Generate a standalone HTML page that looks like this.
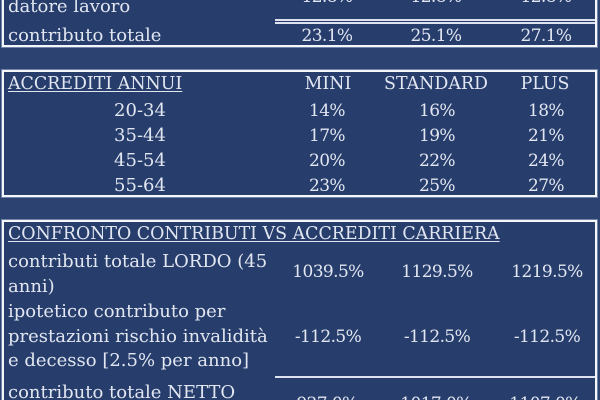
<!DOCTYPE html>
<html>
<head>
<meta charset="utf-8">
<style>
  html { margin:0; padding:0; width:600px; height:400px; overflow:hidden; background:#2c4372; }
  body {
    margin:0; padding:0;
    width:600px; height:400px; overflow:hidden; position:relative;
    background:#2c4372;
    font-family:"DejaVu Serif","Liberation Serif",serif;
    color:#e2e6f0;
  }
  .box {
    position:absolute; left:2px; width:595px; box-sizing:border-box;
    border:2px solid #f4f6fa; background:#273e6d;
    box-shadow:0 0 0 1px rgba(170,185,215,0.55);
  }
  .t { position:absolute; font-size:18px; line-height:18px; white-space:nowrap; }
  .c { width:140px; text-align:center; }
  .n { font-size:17px; letter-spacing:-0.6px; }
  .h { font-size:17.4px; }
  .u { text-decoration:underline; text-decoration-thickness:1px; text-underline-offset:2px; }
  .line { position:absolute; background:#dde2ee; }
</style>
</head>
<body>
  <!-- Box 1 -->
  <div class="box" style="top:-60px;height:107px;"></div>
  <div class="t n c" style="left:257px;top:-12px;">12.8%</div>
  <div class="t n c" style="left:366px;top:-12px;">12.8%</div>
  <div class="t n c" style="left:476px;top:-12px;">12.8%</div>
  <div class="t" style="left:8px;top:-2px;">datore lavoro</div>
  <div class="line" style="left:275px;width:320px;top:19px;height:2px;"></div>
  <div class="line" style="left:275px;width:320px;top:22px;height:2px;"></div>
  <div class="t" style="left:8px;top:26.5px;">contributo totale</div>
  <div class="t n c" style="left:257px;top:26.5px;">23.1%</div>
  <div class="t n c" style="left:366px;top:26.5px;">25.1%</div>
  <div class="t n c" style="left:476px;top:26.5px;">27.1%</div>

  <!-- Box 2 -->
  <div class="box" style="top:70px;height:127px;"></div>
  <div class="t h u" style="left:8px;top:75px;">ACCREDITI ANNUI</div>
  <div class="t h c" style="left:258px;top:75px;">MINI</div>
  <div class="t h c" style="left:366px;top:75px;">STANDARD</div>
  <div class="t h c" style="left:475px;top:75px;">PLUS</div>

  <div class="t c" style="left:70px;top:101.5px;">20-34</div>
  <div class="t n c" style="left:257px;top:101.5px;">14%</div>
  <div class="t n c" style="left:367px;top:101.5px;">16%</div>
  <div class="t n c" style="left:476px;top:101.5px;">18%</div>

  <div class="t c" style="left:70px;top:126.5px;">35-44</div>
  <div class="t n c" style="left:257px;top:126.5px;">17%</div>
  <div class="t n c" style="left:367px;top:126.5px;">19%</div>
  <div class="t n c" style="left:476px;top:126.5px;">21%</div>

  <div class="t c" style="left:70px;top:151.5px;">45-54</div>
  <div class="t n c" style="left:257px;top:151.5px;">20%</div>
  <div class="t n c" style="left:367px;top:151.5px;">22%</div>
  <div class="t n c" style="left:476px;top:151.5px;">24%</div>

  <div class="t c" style="left:70px;top:176.5px;">55-64</div>
  <div class="t n c" style="left:257px;top:176.5px;">23%</div>
  <div class="t n c" style="left:367px;top:176.5px;">25%</div>
  <div class="t n c" style="left:476px;top:176.5px;">27%</div>

  <!-- Box 3 -->
  <div class="box" style="top:220px;height:185px;"></div>
  <div class="t h u" style="left:8px;top:225px;">CONFRONTO CONTRIBUTI VS ACCREDITI CARRIERA</div>

  <div class="t" style="left:8px;top:253px;">contributi totale LORDO (45</div>
  <div class="t" style="left:8px;top:278px;">anni)</div>
  <div class="t n c" style="left:258px;top:263px;">1039.5%</div>
  <div class="t n c" style="left:367px;top:263px;">1129.5%</div>
  <div class="t n c" style="left:477px;top:263px;">1219.5%</div>

  <div class="t" style="left:8px;top:303px;">ipotetico contributo per</div>
  <div class="t" style="left:8px;top:328px;">prestazioni rischio invalidità</div>
  <div class="t" style="left:8px;top:352px;">e decesso [2.5% per anno]</div>
  <div class="t n c" style="left:258px;top:328px;">-112.5%</div>
  <div class="t n c" style="left:367px;top:328px;">-112.5%</div>
  <div class="t n c" style="left:477px;top:328px;">-112.5%</div>

  <div class="line" style="left:275px;width:320px;top:376px;height:2px;"></div>
  <div class="t" style="left:8px;top:384px;">contributo totale NETTO</div>
  <div class="t n c" style="left:257px;top:394.5px;">927.0%</div>
  <div class="t n c" style="left:366px;top:394.5px;">1017.0%</div>
  <div class="t n c" style="left:475px;top:394.5px;">1107.0%</div>
</body>
</html>
